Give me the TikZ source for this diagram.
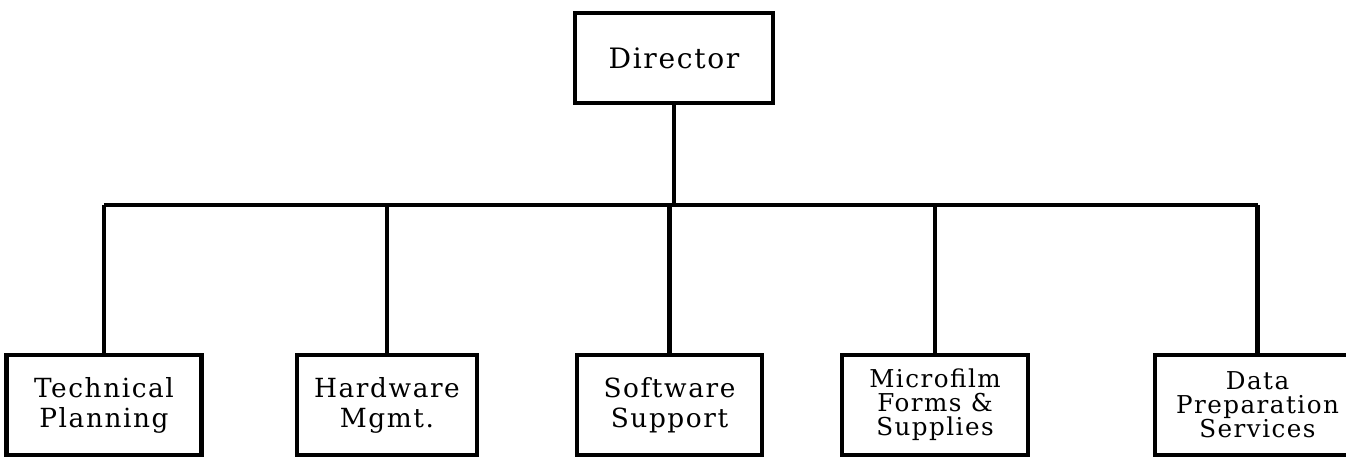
\documentclass[tikz,border=0pt]{standalone}
\usepackage{fontspec}
\setmainfont{DejaVu Serif}[LetterSpace=6]
\usepackage{tikz}

\begin{document}
\begin{tikzpicture}[line width=2.4pt]
  \tikzstyle{head}=[rectangle,draw,minimum width=3.96cm,minimum height=1.8cm,font=\fontsize{16}{18}\selectfont]
  \tikzstyle{unit}=[rectangle,draw,minimum height=2cm,align=center,inner sep=1pt,font=\fontsize{15}{17}\selectfont]
  \tikzstyle{unit3}=[unit,font=\fontsize{14}{13.6}\selectfont]
  \useasboundingbox (0,0) rectangle (26.92,-9.14);
  \node(director) at (13.48,-1.16) [head]{Director};
  \coordinate(bus) at (0,-4.1);
  \node(tech) at (2.08,-8.1) [unit,minimum width=3.9cm]{Technical\\Planning};
  \node(hard) at (7.74,-8.1) [unit,minimum width=3.6cm]{Hardware\\Mgmt.};
  \node(soft) at (13.39,-8.1) [unit,minimum width=3.7cm]{Software\\Support};
  \node(micro) at (18.7,-8.1) [unit3,minimum width=3.72cm]{Microfilm\\Forms \&\\Supplies};
  \node(data) at (25.15,-8.1) [unit3,minimum width=4.1cm]{Data\\Preparation\\Services};
  % director down to the bus
  \draw(director.south)--(director.south |- bus);
  \draw(tech.north |- bus)--(data.north |- bus);
  \draw(tech.north |- bus)--(tech.north);
  \draw(hard.north |- bus)--(hard.north);
  \draw(soft.north |- bus)--(soft.north);
  \draw(micro.north |- bus)--(micro.north);
  \draw(data.north |- bus)--(data.north);
\end{tikzpicture}
\end{document}
